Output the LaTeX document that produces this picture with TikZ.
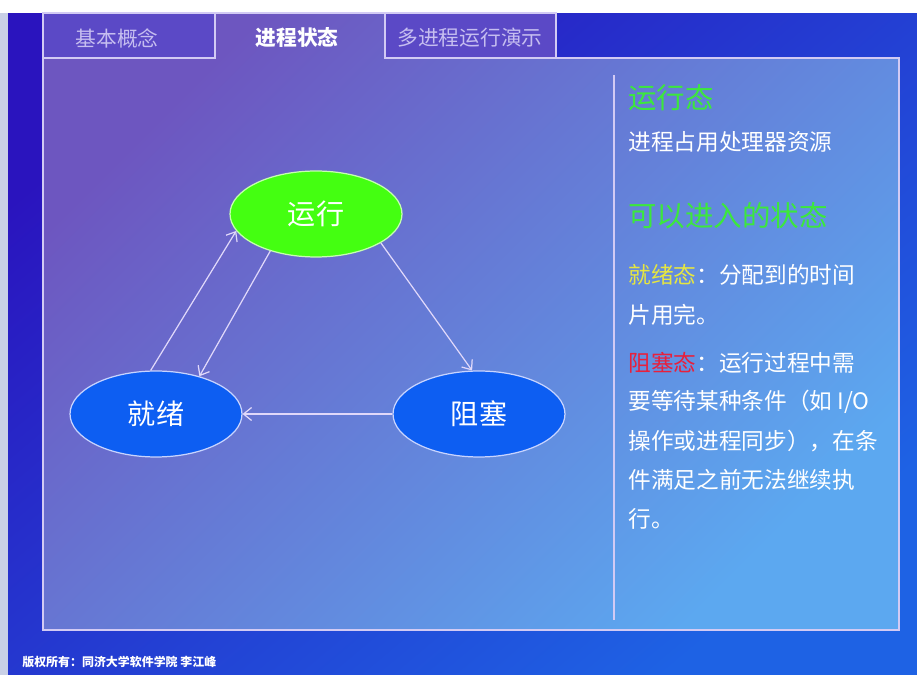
\documentclass[tikz,border=0pt]{standalone}
\usepackage{fontspec}
\setmainfont{Noto Sans CJK SC}
\usepackage{tikz}
\usetikzlibrary{arrows.meta,shapes.geometric}
\definecolor{bgdark}{HTML}{2A14BE}
\definecolor{bgmid}{HTML}{2622C4}
\definecolor{bgbright}{HTML}{1E62E4}
\definecolor{stripgray}{HTML}{C9D0E6}
\definecolor{panelpurple}{HTML}{6D56C0}
\definecolor{panelmid}{HTML}{6A68CA}
\definecolor{panelblue}{HTML}{5CA8F0}
\definecolor{tabfill}{HTML}{5B49C6}
\definecolor{framelite}{HTML}{D2CAF4}
\definecolor{tablite}{HTML}{C6BEF0}
\definecolor{rungreen}{HTML}{44FF11}
\definecolor{runedge}{HTML}{C6FFB0}
\definecolor{stateblue}{HTML}{0D5EF2}
\definecolor{stateedge}{HTML}{C8D4FF}
\definecolor{headgreen}{HTML}{3CE83C}
\definecolor{readyyellow}{HTML}{E6E640}
\definecolor{blockred}{HTML}{E8203C}
\definecolor{arrowlite}{HTML}{E0D8FA}

\begin{document}
\begin{tikzpicture}[x=0.02cm,y=-0.02cm,>={Straight Barb[length=1.6mm,width=2.6mm]},
    tabtext/.style={inner sep=0pt,text=tablite,font=\fontsize{11.8}{14}\selectfont},
    runstate/.style={ellipse,draw=runedge,fill=rungreen,line width=0.7pt,minimum width=3.44cm,minimum height=1.72cm,inner sep=0pt,text=white,font=\fontsize{16}{18}\selectfont},
    waitstate/.style={runstate,draw=stateedge,fill=stateblue},
    heading/.style={anchor=west,inner sep=0pt,text=headgreen,font=\fontsize{16.2}{18}\selectfont},
    bodytext/.style={anchor=west,inner sep=0pt,text=white,font=\fontsize{12.9}{15}\selectfont},
    trans/.style={->,draw=arrowlite,line width=0.7pt}]
  \useasboundingbox (0,0) rectangle (917,675);
  % page background
  \shade[top color=bgdark,middle color=bgmid,bottom color=bgbright,shading angle=40] (0,0) rectangle (917,675);
  \fill[white] (0,0) rectangle (917,13);
  \fill[stripgray] (0,13) rectangle (8,675);
  % panel with the open tab
  \shade[top color=panelpurple,middle color=panelmid,bottom color=panelblue,shading angle=45]
    (43,58) -- (215,58) -- (215,13) -- (385,13) -- (385,58) -- (899,58) -- (899,630) -- (43,630) -- cycle;
  \draw[framelite,line width=0.8pt]
    (43,58) -- (215,58) -- (215,13) -- (385,13) -- (385,58) -- (899,58) -- (899,630) -- (43,630) -- cycle;
  \filldraw[fill=tabfill,draw=framelite,line width=0.8pt] (43,13) rectangle (215,58);
  \filldraw[fill=tabfill,draw=framelite,line width=0.8pt] (385,13) rectangle (556,58);
  \draw[framelite,line width=0.8pt] (614,75) -- (614,620);
  % tabs
  \node[tabtext] (tabbasic) at (117,38) {基本概念};
  \node[tabtext,text=white,font=\bfseries\fontsize{11.8}{14}\selectfont] (tabstate) at (297,38) {进程状态};
  \node[tabtext] (tabdemo) at (470,38) {多进程运行演示};
  % states
  \node[runstate] (run) at (316,214) {运行};
  \node[waitstate] (rdy) at (156,414) {就绪};
  \node[waitstate] (blk) at (479,414) {阻塞};
  \draw[trans] (rdy.97) -- (run.192);
  \draw[trans] (run.219) -- (rdy.41);
  \draw[trans] (run.336) -- (blk.99);
  \draw[trans] (blk.west) -- (rdy.east);
  % explanation
  \node[heading] (runtitle) at (628,98) {运行态};
  \node[bodytext] (rundesc) at (628,142) {进程占用处理器资源};
  \node[heading] (nexttitle) at (628,216) {可以进入的状态};
  \node[bodytext] (ready1) at (628,275) {{\color{readyyellow}就绪态}：分配到的时间};
  \node[bodytext] (ready2) at (628,315) {片用完。};
  \foreach \txt [count=\i] in {{{\color{blockred}阻塞态}：运行过程中需},要等待某种条件（如 I/O,操作或进程同步），在条,件满足之前无法继续执,行。}
    \node[bodytext] (block\i) at (628,{363+39*(\i-1)}) {\txt};
  \node[anchor=west,inner sep=0pt,text=white,font=\bfseries\fontsize{6.8}{8}\selectfont] (credit) at (22,662) {版权所有：同济大学软件学院 李江峰};
\end{tikzpicture}
\end{document}
